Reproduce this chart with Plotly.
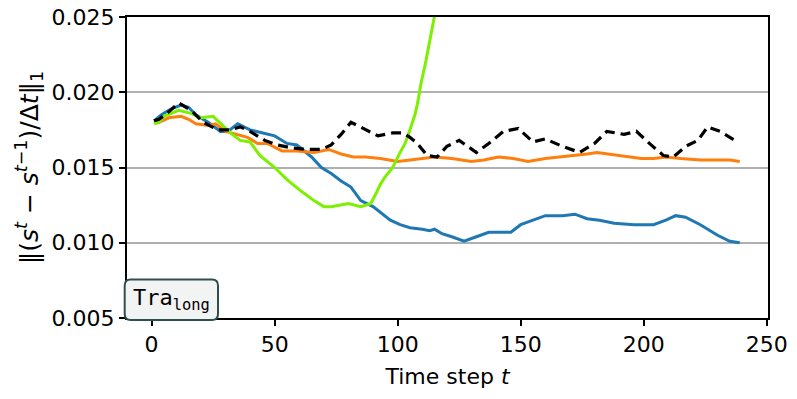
import plotly.graph_objects as go

# ---- data ----
blue_t = [1, 4, 8, 12, 15, 18, 23, 28, 31, 35, 40, 45, 50, 55, 59, 65, 69, 73, 77, 81, 85, 90, 97,
          101, 105, 110, 113, 115, 118, 122, 127, 132, 137, 141, 146, 150, 155, 160, 167, 172, 177,
          182, 188, 196, 204, 209, 213, 217, 223, 230, 235, 239]
blue_v = [0.0181, 0.0185, 0.0189, 0.01915, 0.0190, 0.0185, 0.0180, 0.0174, 0.0174, 0.0179, 0.0175,
          0.0173, 0.0171, 0.0166, 0.0165, 0.0157, 0.0150, 0.0146, 0.0141, 0.0137, 0.0128, 0.0124,
          0.0115, 0.0112, 0.0110, 0.0109, 0.0108, 0.0109, 0.0106, 0.0104, 0.0101, 0.0104, 0.0107,
          0.0107, 0.0107, 0.0112, 0.0115, 0.0118, 0.0118, 0.0119, 0.0116, 0.0115, 0.0113, 0.0112,
          0.0112, 0.0115, 0.0118, 0.0117, 0.0112, 0.0105, 0.0101, 0.0100]

orange_t = [1, 3, 7, 12, 15, 18, 23, 26, 30, 35, 39, 43, 47, 53, 59, 66, 72, 77, 82, 87, 93, 100,
            105, 110, 115, 122, 130, 135, 141, 147, 153, 160, 166, 172, 177, 181, 185, 190, 195,
            199, 204, 209, 215, 223, 230, 235, 239]
orange_v = [0.0181, 0.0180, 0.0183, 0.0184, 0.0182, 0.0179, 0.0178, 0.0179, 0.0174, 0.0172, 0.0170,
            0.0166, 0.0166, 0.0161, 0.0161, 0.0160, 0.0162, 0.0159, 0.0157, 0.0157, 0.0156, 0.0154,
            0.0155, 0.0156, 0.0157, 0.0156, 0.0154, 0.0155, 0.0157, 0.0156, 0.0154, 0.0156, 0.0157,
            0.0158, 0.0159, 0.0160, 0.0159, 0.0158, 0.0157, 0.0156, 0.0156, 0.0157, 0.0156, 0.0155,
            0.0155, 0.0155, 0.0154]

green_t = [1, 3, 5, 8, 11, 16, 20, 25, 28, 32, 36, 40, 44, 50, 55, 61, 66, 70, 73, 76, 80, 85, 89,
           91, 93, 95, 98, 101, 103, 105, 107, 108, 109.5, 111.5, 113.5, 115, 117]
green_v = [0.0179, 0.0180, 0.0184, 0.0186, 0.0188, 0.0186, 0.0183, 0.0184, 0.0179, 0.0173, 0.0168,
           0.0167, 0.0158, 0.0150, 0.0142, 0.0134, 0.0128, 0.0124, 0.0124, 0.0125, 0.0126, 0.0124,
           0.0126, 0.0132, 0.0139, 0.0144, 0.0150, 0.0160, 0.0166, 0.0175, 0.0185, 0.0192, 0.0206,
           0.0221, 0.0237, 0.0250, 0.0268]

black_t = [1, 3, 7, 11, 16, 21, 27, 32, 36, 40, 46, 51, 57, 63, 69, 73, 77, 81, 86, 92, 98, 102,
           105, 108, 112, 116, 120, 125, 132, 137, 143, 149, 155, 160, 167, 174, 180, 185, 192,
           197, 203, 208, 212, 217, 222, 226, 231, 238]
black_v = [0.0181, 0.0182, 0.0187, 0.0193, 0.0188, 0.0180, 0.0175, 0.0175, 0.0177, 0.0174, 0.0168,
           0.0165, 0.0163, 0.0162, 0.0162, 0.0165, 0.0172, 0.0180, 0.0176, 0.0171, 0.0173, 0.0173,
           0.0170, 0.0166, 0.0158, 0.0157, 0.0164, 0.0168, 0.0160, 0.0166, 0.0174, 0.0176, 0.0167,
           0.0169, 0.0164, 0.0160, 0.0166, 0.0174, 0.0172, 0.0174, 0.0165, 0.0158, 0.0157, 0.0164,
           0.0168, 0.0177, 0.0174, 0.0167]

x_ticks = [0, 50, 100, 150, 200, 250]
y_ticks = [0.005, 0.010, 0.015, 0.020, 0.025]
y_tick_labels = ["0.005", "0.010", "0.015", "0.020", "0.025"]

FONT = "DejaVu Sans"
FS = 22

fig = go.Figure()
fig.add_trace(go.Scatter(x=blue_t, y=blue_v, mode="lines",
                         line=dict(color="#1f77b4", width=3), showlegend=False))
fig.add_trace(go.Scatter(x=orange_t, y=orange_v, mode="lines",
                         line=dict(color="#ff7f0e", width=3), showlegend=False))
fig.add_trace(go.Scatter(x=green_t, y=green_v, mode="lines",
                         line=dict(color="#7cf000", width=3), showlegend=False))
fig.add_trace(go.Scatter(x=black_t, y=black_v, mode="lines",
                         line=dict(color="black", width=3.2, dash="10px,6px"), showlegend=False))

# page body has an 8px margin, so the figure is 8px smaller and margins are shifted
fig.update_layout(
    width=789, height=391,
    margin=dict(l=119, r=29, t=9, b=81),
    plot_bgcolor="white", paper_bgcolor="white",
    font=dict(family=FONT, size=FS, color="black"),
)
fig.update_xaxes(
    range=[-10, 250.5], tickvals=x_ticks, ticks="outside", ticklen=6, tickwidth=1.5,
    tickcolor="black", showline=True, linecolor="black", linewidth=2, mirror=True,
    showgrid=False, zeroline=False, automargin=False, ticklabeloverflow="allow",
    title=dict(text="Time step <i>t</i>", font=dict(size=FS), standoff=12),
    tickfont=dict(size=FS),
)
fig.update_yaxes(
    range=[0.005, 0.025], tickvals=y_ticks, ticktext=y_tick_labels, ticks="outside",
    ticklen=6, tickwidth=1.5, tickcolor="black", showline=True, linecolor="black", linewidth=2,
    mirror=True, showgrid=True, gridcolor="#b0b0b0", gridwidth=1.5, zeroline=False,
    automargin=False, ticklabeloverflow="allow",
    title=dict(text="‖(<i>s</i><sup><i>t</i></sup> − <i>s</i><sup><i>t</i>−1</sup>)/Δ<i>t</i>‖<sub>1</sub>",
               font=dict(size=25), standoff=6),
    tickfont=dict(size=FS),
)

# rounded label box in paper coordinates (plot area 641 x 301 px)
pw, ph = 641.0, 301.0
x0, x1 = (124.7 - 127) / pw, (218 - 127) / pw
y0, y1 = (318 - 320) / ph, (318 - 279.5) / ph
rx, ry = 6 / pw, 6 / ph
path = (f"M {x0+rx},{y0} L {x1-rx},{y0} Q {x1},{y0} {x1},{y0+ry} "
        f"L {x1},{y1-ry} Q {x1},{y1} {x1-rx},{y1} L {x0+rx},{y1} "
        f"Q {x0},{y1} {x0},{y1-ry} L {x0},{y0+ry} Q {x0},{y0} {x0+rx},{y0} Z")
fig.add_shape(type="path", path=path, xref="paper", yref="paper",
              line=dict(color="#2f4f4f", width=2), fillcolor="#f2f3f3", layer="above")
fig.add_annotation(x=(x0 + x1) / 2, y=(y0 + y1) / 2, xref="paper", yref="paper",
                   text="Tra<sub>long</sub>", showarrow=False,
                   font=dict(family="DejaVu Sans Mono", size=FS, color="black"),
                   xanchor="center", yanchor="middle")

fig.write_html("out.html")
